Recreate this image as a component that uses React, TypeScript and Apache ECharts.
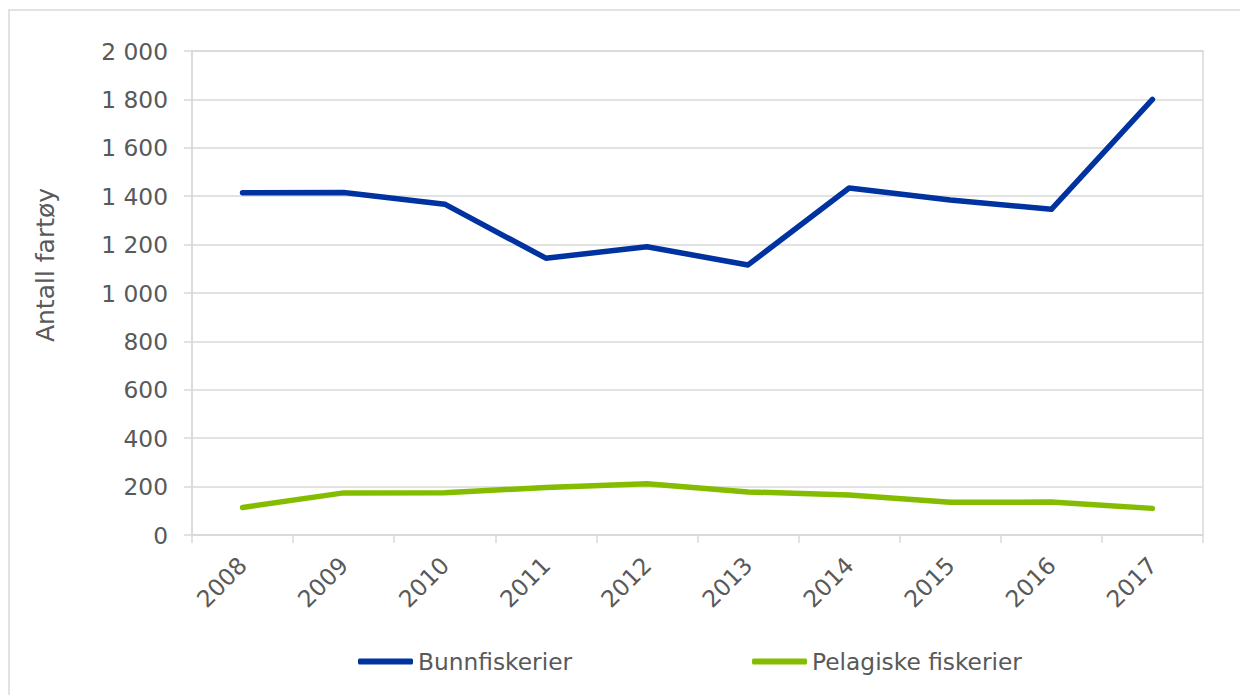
import React, { useEffect, useRef } from "react";
import * as echarts from "echarts";

const years = ["2008", "2009", "2010", "2011", "2012", "2013", "2014", "2015", "2016", "2017"];
const bunnfiskerier = [1414, 1415, 1367, 1144, 1191, 1116, 1434, 1384, 1346, 1800];
const pelagiske = [114, 174, 175, 196, 212, 178, 165, 135, 136, 110];
const seriesNames = ["Bunnfiskerier", "Pelagiske fiskerier"];
const seriesColors = ["#0033a0", "#84bd00"];
const yAxisTitle = "Antall fartøy";

const TEXT = "#595959";
const GRID = "#d9d9d9";
const FONT = "DejaVu Sans";

function fmt(v: number) {
  return String(v).replace(/\B(?=(\d{3})+(?!\d))/g, " ");
}

export default function App() {
  const ref = useRef<HTMLDivElement>(null);
  useEffect(() => {
    if (!ref.current) return;
    const chart = echarts.init(ref.current, null, { renderer: "svg" });
    chart.setOption({
      animation: false,
      textStyle: { fontFamily: FONT },
      graphic: [
        {
          type: "rect",
          shape: { x: 1, y: 2, width: 1300, height: 800 },
          style: { fill: "none", stroke: GRID, lineWidth: 1.5 },
          silent: true,
          z: -10,
        },
        {
          type: "text",
          x: 37,
          y: 257,
          rotation: Math.PI / 2,
          style: {
            text: yAxisTitle,
            fill: TEXT,
            fontSize: 25,
            fontFamily: FONT,
            align: "center",
            verticalAlign: "middle",
          },
          silent: true,
        },
      ],
      grid: {
        left: 184,
        right: 45,
        top: 43,
        bottom: 160,
        show: true,
        borderColor: GRID,
        borderWidth: 1.5,
        backgroundColor: "transparent",
      },
      legend: {
        left: 345,
        top: 637,
        itemWidth: 55,
        itemHeight: 6,
        itemGap: 180,
        icon: "roundRect",
        textStyle: { color: TEXT, fontSize: 23.3, fontFamily: FONT },
        data: seriesNames,
      },
      xAxis: {
        type: "category",
        data: years,
        boundaryGap: true,
        axisLine: { lineStyle: { color: GRID, width: 1.5 } },
        axisTick: { show: true, length: 8, lineStyle: { color: GRID, width: 1.5 } },
        axisLabel: {
          color: TEXT,
          fontSize: 23.3,
          fontFamily: FONT,
          rotate: 45,
          margin: 26,
        },
        splitLine: { show: false },
      },
      yAxis: {
        type: "value",
        min: 0,
        max: 2000,
        interval: 200,
        axisLine: { show: true, lineStyle: { color: GRID, width: 1.5 } },
        axisTick: { show: true, length: 8, lineStyle: { color: GRID, width: 1.5 } },
        axisLabel: {
          color: TEXT,
          fontSize: 23.3,
          fontFamily: FONT,
          margin: 24,
          formatter: (v: number) => fmt(v),
        },
        splitLine: { show: true, lineStyle: { color: GRID, width: 1.5 } },
      },
      series: [
        {
          name: seriesNames[0],
          type: "line",
          data: bunnfiskerier,
          symbol: "none",
          showSymbol: false,
          itemStyle: { color: seriesColors[0] },
          lineStyle: { color: seriesColors[0], width: 5.5, cap: "round", join: "round" },
        },
        {
          name: seriesNames[1],
          type: "line",
          data: pelagiske,
          symbol: "none",
          showSymbol: false,
          itemStyle: { color: seriesColors[1] },
          lineStyle: { color: seriesColors[1], width: 5.5, cap: "round", join: "round" },
        },
      ],
    });
    return () => chart.dispose();
  }, []);
  return <div ref={ref} style={{ width: 1240, height: 687 }} />;
}
